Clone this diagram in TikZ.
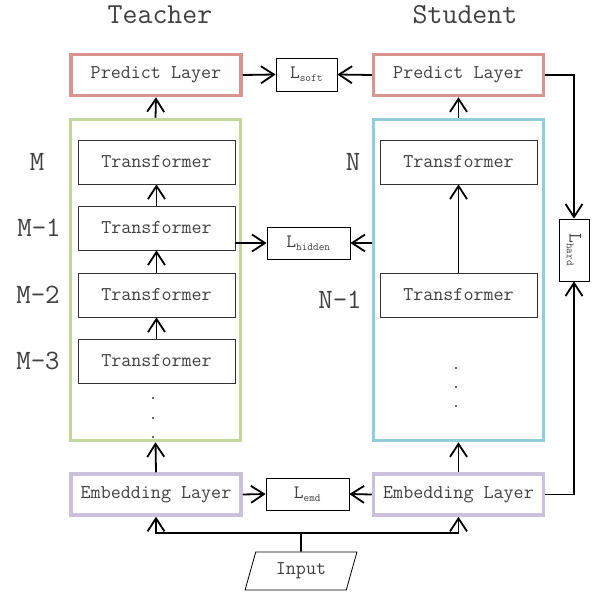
\documentclass[tikz,border=0pt]{standalone}
\usepackage{fontspec}
\usepackage{xcolor}
\usepackage{tikz}
\usetikzlibrary{calc,arrows.meta,shapes.geometric}
\definecolor{txt}{HTML}{404040}
\definecolor{predred}{HTML}{D99490}
\definecolor{tgreen}{HTML}{C3D69B}
\definecolor{sblue}{HTML}{92CDDC}
\definecolor{embpurple}{HTML}{CCC1DA}
\tikzset{
  layer/.style={line width=3.5pt, minimum width=170pt, minimum height=41pt, inner sep=0pt,
    text=txt, font=\ttfamily\fontsize{19.5}{22}\selectfont},
  predict/.style={layer, draw=predred},
  embed/.style={layer, draw=embpurple},
  encbox/.style={line width=3.5pt, minimum width=170pt, minimum height=321pt, inner sep=0pt},
  trans/.style={draw=black!80, line width=0.8pt, minimum width=157pt, minimum height=44pt,
    inner sep=0pt, text=txt, font=\ttfamily\fontsize{19.5}{22}\selectfont},
  loss/.style={draw=black, line width=0.8pt, inner sep=0pt, text=txt,
    font=\ttfamily\fontsize{19}{22}\selectfont},
  title/.style={text=txt, font=\ttfamily\fontsize{29}{32}\selectfont},
  lay/.style={text=txt, font=\ttfamily\fontsize{28}{32}\selectfont},
  arr/.style={line width=1.8pt, -{Straight Barb[length=13pt,width=17pt,line width=1.8pt]}},
  wire/.style={line width=1.8pt},
  dot/.style={fill=black!80},
}
\newcommand{\loss}[1]{L\textsubscript{\fontsize{11}{13}\selectfont #1}}

\begin{document}
\begin{tikzpicture}[x=1pt,y=-1pt]
  \useasboundingbox (0,0) rectangle (594,593);

  % titles
  \node[title] (ttl) at (160,15) {Teacher};
  \node[title] (stl) at (465,15) {Student};

  % teacher column
  \node[predict] (tpred) at (156,75) {Predict Layer};
  \node[encbox, draw=tgreen] (tenc) at (155.5,280) {};
  \node[trans] (tM)  at (156.5,162) {Transformer};
  \node[trans] (tM1) at (156.5,228) {Transformer};
  \node[trans] (tM2) at (156.5,295) {Transformer};
  \node[trans] (tM3) at (156.5,361) {Transformer};
  \node[embed] (temb) at (156,494.5) {Embedding Layer};
  \foreach \y in {398,418,437} \fill[dot] (153,\y) circle (1.1pt);

  \node[lay] (lM)  at (37,162) {M};
  \node[lay] (lM1) at (39,228) {M-1};
  \node[lay] (lM2) at (38,295) {M-2};
  \node[lay] (lM3) at (38,361) {M-3};

  % student column
  \node[predict] (spred) at (458.5,75) {Predict Layer};
  \node[encbox, draw=sblue] (senc) at (458.5,280) {};
  \node[trans] (sN)  at (458.5,162) {Transformer};
  \node[trans] (sN1) at (458.5,295) {Transformer};
  \node[embed] (semb) at (458.5,494.5) {Embedding Layer};
  \foreach \y in {368,387,406} \fill[dot] (456,\y) circle (1.1pt);

  \node[lay] (lN)  at (353,162) {N};
  \node[lay] (lN1) at (340,300) {N-1};

  % losses
  \node[loss, minimum width=61pt, minimum height=33pt] (lsoft) at (306.5,74.5) {\loss{soft}};
  \node[loss, minimum width=83pt, minimum height=32pt] (lhid) at (308.5,243) {\loss{hidden}};
  \node[loss, minimum width=83pt, minimum height=32pt] (lemd) at (307.5,494) {\loss{emd}};
  \node[loss, minimum width=62pt, minimum height=30pt, rotate=-90] (lhard) at (574,250) {\loss{hard}};

  % input
  \node[trapezium, trapezium left angle=70, trapezium right angle=110, trapezium stretches=true,
    draw=black, line width=0.8pt, minimum width=112pt, minimum height=38pt, inner sep=0pt,
    text=txt, font=\ttfamily\fontsize{19.5}{22}\selectfont] (inp) at (301,571) {Input};
  \coordinate (split) at (301,533);

  % connectors
  \draw[wire] (inp.north) -- (split);
  \draw[arr] (split) -| (temb.south);
  \draw[arr] (split) -| (semb.south);
  \draw[arr] (temb.north) -- (tenc.south);
  \draw[arr] (semb.north) -- (senc.south);
  \draw[arr] (tenc.north) -- (tpred.south);
  \draw[arr] (senc.north) -- (spred.south);
  \draw[arr] (tM3.north) -- (tM2.south);
  \draw[arr] (tM2.north) -- (tM1.south);
  \draw[arr] (tM1.north) -- (tM.south);
  \draw[arr] (sN1.north) -- (sN.south);

  \draw[arr] (tpred.east) -- (lsoft.west);
  \draw[arr] (spred.west) -- (lsoft.east);
  \draw[arr] (tM1.east |- lhid) -- (lhid.west);
  \draw[arr] (senc.west |- lhid) -- (lhid.east);
  \draw[arr] (temb.east) -- (lemd.west);
  \draw[arr] (semb.west) -- (lemd.east);

  \draw[arr] (spred.east) -| (lhard.west);
  \draw[arr] (semb.east) -| (lhard.east);
\end{tikzpicture}
\end{document}
